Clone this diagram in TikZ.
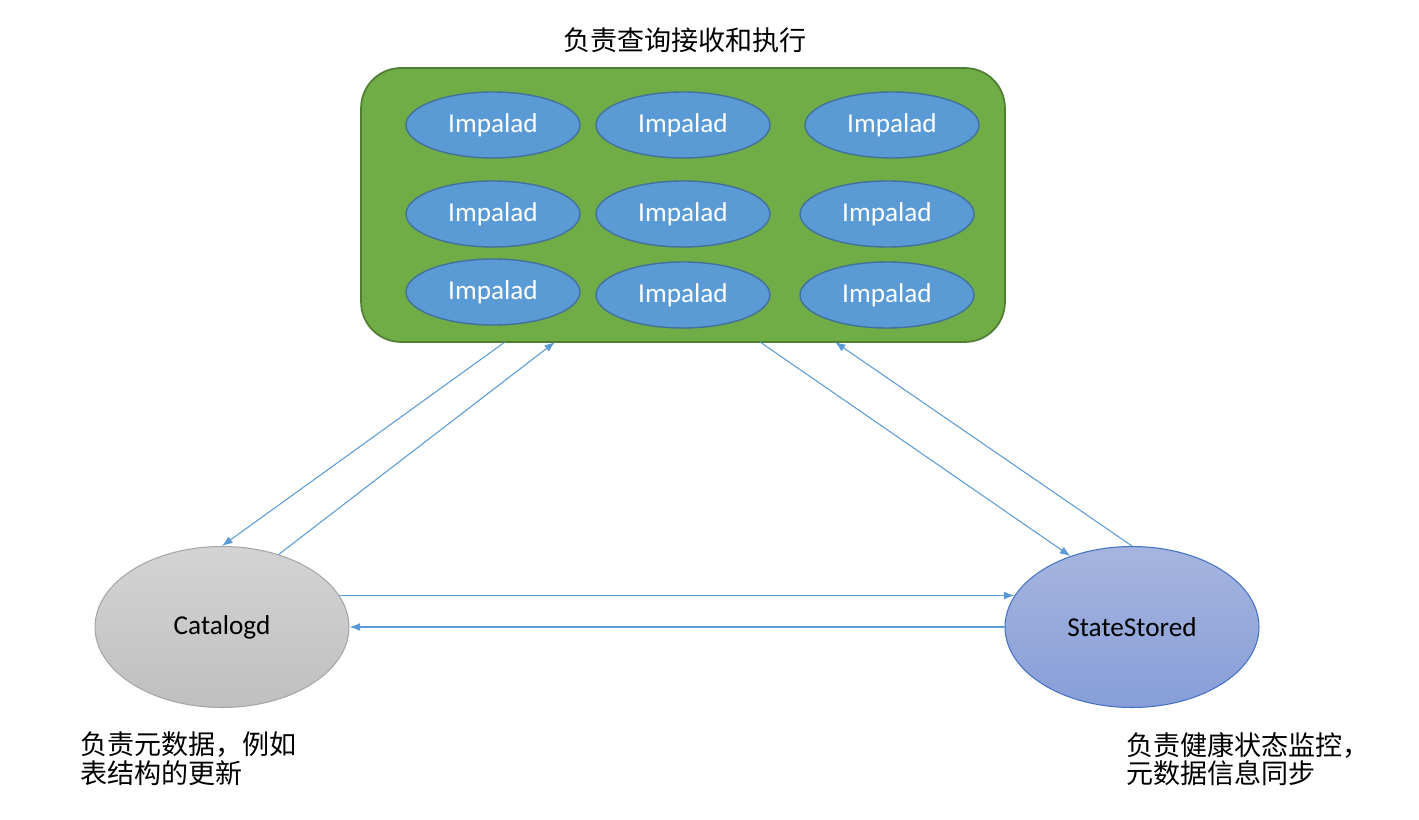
\documentclass[tikz,border=0pt]{standalone}
\usepackage{fontspec}
\setmainfont{Carlito}
\newfontfamily\cjk{Noto Sans CJK SC}
\usetikzlibrary{shapes.geometric,arrows.meta}

\definecolor{poolgreen}{HTML}{70AD47}
\definecolor{pooledge}{HTML}{507E32}
\definecolor{impblue}{HTML}{5B9BD5}
\definecolor{impedge}{HTML}{41719C}
\definecolor{linkblue}{HTML}{5B9BD5}
\definecolor{ssedge}{HTML}{4472C4}

\begin{document}
\begin{tikzpicture}[x=0.02cm, y=-0.02cm,
	impalad/.style = {ellipse, draw = impedge, line width = 0.8pt, fill = impblue, text = white,
		minimum width = 3.48cm, minimum height = 1.32cm, inner sep = 0pt,
		font = \fontsize{15.5}{18}\selectfont},
	bignode/.style = {ellipse, line width = 0.6pt, minimum width = 5.08cm, minimum height = 3.22cm,
		inner sep = 0pt, font = \fontsize{15.5}{18}\selectfont},
	link/.style = {draw = linkblue, line width = 0.6pt, -{Latex[length = 6pt, width = 4.5pt]}},
	caption/.style = {anchor = west, align = left, inner sep = 0pt,
		font = \cjk\fontsize{15.4}{16.3}\selectfont}]
	\useasboundingbox (0, 0) rectangle (1419, 820);

	\node[font = \cjk\fontsize{15.4}{18}\selectfont] (title) at (685, 40) {负责查询接收和执行};

	\node[draw = pooledge, line width = 1pt, fill = poolgreen, rounded corners = 0.8cm,
		minimum width = 12.88cm, minimum height = 5.48cm] (pool) at (683, 205) {};

	\node[impalad] (i11) at (493, 125) {Impalad};
	\node[impalad] (i12) at (683, 125) {Impalad};
	\node[impalad] (i13) at (892, 125) {Impalad};
	\node[impalad] (i21) at (493, 214) {Impalad};
	\node[impalad] (i22) at (683, 214) {Impalad};
	\node[impalad] (i23) at (887, 214) {Impalad};
	\node[impalad] (i31) at (493, 292) {Impalad};
	\node[impalad] (i32) at (683, 295) {Impalad};
	\node[impalad] (i33) at (887, 295) {Impalad};

	\node[bignode, draw = gray!70, top color = black!17, bottom color = black!25] (cat) at (222, 627) {Catalogd};
	\node[bignode, draw = ssedge, top color = {rgb,255:red,166;green,181;blue,223},
		bottom color = {rgb,255:red,135;green,158;blue,216}] (ss) at (1132, 627) {StateStored};

	\node[caption] (catnote) at (80, 759) {负责元数据，例如\\表结构的更新};
	\node[caption] (ssnote) at (1126, 759) {负责健康状态监控，\\元数据信息同步};

	% ends on the pool border
	\coordinate (pA) at (505, 342);
	\coordinate (pB) at (555, 342);
	\coordinate (pC) at (760, 342);
	\coordinate (pD) at (835, 342);

	% edges
	\draw[link] (pA) -- (cat.north);
	\draw[link] (cat.52) -- (pB);
	\draw[link] (pC) -- (ss.131);
	\draw[link] (ss.north) -- (pD);
	\draw[link] (cat.15) -- (ss.165);
	\draw[link] (ss.west) -- (cat.east);

\end{tikzpicture}
\end{document}
